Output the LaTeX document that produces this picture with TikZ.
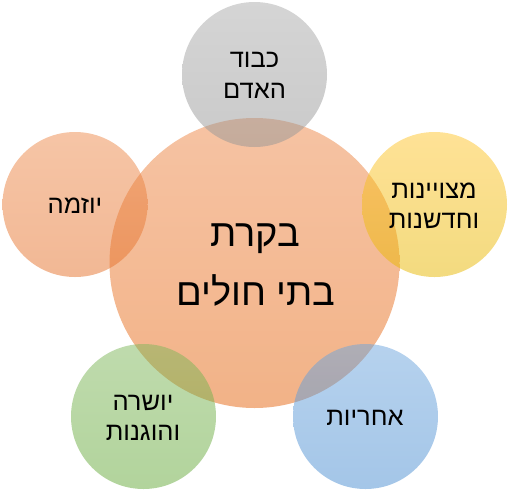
\documentclass[tikz,border=0pt]{standalone}
\usepackage{fontspec}
\newfontfamily\heb[Script=Hebrew]{Liberation Sans}
\TeXXeTstate=1
\definecolor{cTopA}{HTML}{F09B66}
\definecolor{cBotA}{HTML}{E97F37}
\definecolor{gTop}{HTML}{ABABAB}
\definecolor{gBot}{HTML}{959595}
\definecolor{yTop}{HTML}{FFC52D}
\definecolor{yBot}{HTML}{E7B700}
\definecolor{bTop}{HTML}{6DA5DD}
\definecolor{bBot}{HTML}{498DD1}
\definecolor{grTop}{HTML}{7FB75B}
\definecolor{grBot}{HTML}{65A939}
\definecolor{oTop}{HTML}{ED8B4D}
\definecolor{oBot}{HTML}{E5712A}
\begin{document}
\begin{tikzpicture}[x=1pt,y=-1pt,
  bubble/.style={circle,inner sep=0pt,minimum size=145pt,fill opacity=0.5,draw=none},
  big/.style={circle,inner sep=0pt,minimum size=290pt,fill opacity=0.6,draw=none},
  small/.style={anchor=base,inner sep=0pt,font=\heb\fontsize{25.5}{30}\selectfont},
  large/.style={anchor=base,inner sep=0pt,font=\heb\fontsize{38}{44}\selectfont}]
\useasboundingbox (0,0) rectangle (509,491);
\node[big,top color=cTopA,bottom color=cBotA] (c) at (254.5,263) {};
\node[bubble,top color=gTop,bottom color=gBot] (t) at (254.5,74.5) {};
\node[bubble,top color=oTop,bottom color=oBot] (l) at (75,204.5) {};
\node[bubble,top color=yTop,bottom color=yBot] (r) at (434.5,204.5) {};
\node[bubble,top color=grTop,bottom color=grBot] (bl) at (143.5,416.5) {};
\node[bubble,top color=bTop,bottom color=bBot] (br) at (365.5,416.5) {};
% texts
\node[large] (c1) at (255,246) {\beginR בקרת\endR};
\node[large] (c2) at (256,305) {\beginR בתי חולים\endR};
\node[small] (t1) at (254.5,67) {\beginR כבוד\endR};
\node[small] (t2) at (254.5,98) {\beginR האדם\endR};
\node[small] (l1) at (75,213) {\beginR יוזמה\endR};
\node[small] (r1) at (434,198.5) {\beginR מצויינות\endR};
\node[small] (r2) at (434,228) {\beginR וחדשנות\endR};
\node[small] (bl1) at (143,410) {\beginR יושרה\endR};
\node[small] (bl2) at (143,440) {\beginR והוגנות\endR};
\node[small] (br1) at (365,425) {\beginR אחריות\endR};
\end{tikzpicture}
\end{document}
